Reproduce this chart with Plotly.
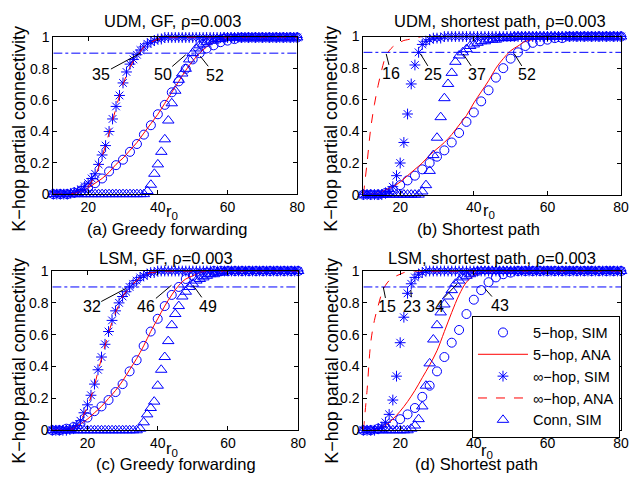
import plotly.graph_objects as go

W, H = 636, 485

# ---------------- data ----------------
R1 = list(range(10, 81))        # r0 grid, step 1 (stars, triangles, inf-hop ANA)
R2 = list(range(10, 81, 2))     # r0 grid, step 2 (circles, 5-hop ANA)
THRESH = 0.9
X_TICKS = [20, 40, 60, 80]
Y_TICKS = [0, 0.2, 0.4, 0.6, 0.8, 1]

TITLES = ["UDM, GF, ρ=0.003", "UDM, shortest path, ρ=0.003",
          "LSM, GF, ρ=0.003", "LSM, shortest path, ρ=0.003"]
CAPTIONS = ["(a) Greedy forwarding", "(b) Shortest path",
            "(c) Greedy forwarding", "(d) Shortest path"]
Y_LABEL = "K−hop partial connectivity"
X_LABEL = "r<sub>0</sub>"
NAMES = ["5−hop, SIM", "5−hop, ANA", "∞−hop, SIM", "∞−hop, ANA", "Conn, SIM"]

# ---- (a) UDM, GF ----
STAR_A = [0, 0, 0, 0, 0, 0.005, 0.01, 0.02, 0.03, 0.05,
          0.07, 0.10, 0.13, 0.19, 0.25, 0.31, 0.40, 0.48, 0.56, 0.63,
          0.71, 0.78, 0.83, 0.86, 0.89, 0.92, 0.94, 0.96, 0.97, 0.98,
          0.99, 0.99, 1, 1, 1, 1, 1, 1, 1, 1,
          1, 1, 1, 1, 1, 1, 1, 1, 1, 1,
          1, 1, 1, 1, 1, 1, 1, 1, 1, 1,
          1, 1, 1, 1, 1, 1, 1, 1, 1, 1, 1]
TRI_A = [0, 0, 0, 0, 0, 0, 0, 0, 0, 0,
         0, 0, 0, 0, 0, 0, 0, 0, 0, 0,
         0, 0, 0, 0, 0, 0, 0, 0.02, 0.06, 0.13,
         0.19, 0.27, 0.35, 0.47, 0.58, 0.66, 0.73, 0.77, 0.80, 0.86,
         0.90, 0.93, 0.95, 0.96, 0.97, 0.98, 0.98, 0.99, 0.99, 1,
         1, 1, 1, 1, 1, 1, 1, 1, 1, 1,
         1, 1, 1, 1, 1, 1, 1, 1, 1, 1, 1]
CIR_A = [0, 0, 0, 0.01, 0.02, 0.04, 0.07, 0.10, 0.145, 0.185,
         0.22, 0.27, 0.32, 0.38, 0.44, 0.51, 0.57, 0.65, 0.72, 0.80,
         0.86, 0.90, 0.93, 0.95, 0.97, 0.98, 0.99, 1, 1, 1,
         1, 1, 1, 1, 1, 1]
ANA5_A = [0, 0, 0, 0.01, 0.02, 0.04, 0.07, 0.10, 0.14, 0.19,
          0.23, 0.28, 0.33, 0.39, 0.45, 0.51, 0.58, 0.65, 0.72, 0.79,
          0.85, 0.90, 0.94, 0.97, 0.99, 1, 1, 1, 1, 1,
          1, 1, 1, 1, 1, 1]
ANAI_A = [0, 0, 0, 0, 0, 0.003, 0.006, 0.01, 0.02, 0.03,
          0.05, 0.08, 0.12, 0.17, 0.24, 0.31, 0.39, 0.47, 0.55, 0.63,
          0.70, 0.76, 0.81, 0.85, 0.89, 0.91, 0.94, 0.96, 0.97, 0.98,
          0.99, 0.99, 1, 1, 1, 1, 1, 1, 1, 1,
          1, 1, 1, 1, 1, 1, 1, 1, 1, 1,
          1, 1, 1, 1, 1, 1, 1, 1, 1, 1,
          1, 1, 1, 1, 1, 1, 1, 1, 1, 1, 1]

# ---- (b) UDM, shortest path ----
STAR_B = [0, 0, 0, 0, 0, 0, 0.01, 0.02, 0.05, 0.12,
          0.20, 0.33, 0.51, 0.70, 0.82, 0.90, 0.95, 0.97, 0.98, 0.99,
          0.99, 0.99, 1, 1, 1, 1, 1, 1, 1, 1,
          1, 1, 1, 1, 1, 1, 1, 1, 1, 1,
          1, 1, 1, 1, 1, 1, 1, 1, 1, 1,
          1, 1, 1, 1, 1, 1, 1, 1, 1, 1,
          1, 1, 1, 1, 1, 1, 1, 1, 1, 1, 1]
TRI_B = [0, 0, 0, 0, 0, 0, 0, 0, 0, 0,
         0, 0, 0, 0, 0, 0, 0.02, 0.06, 0.15, 0.25,
         0.36, 0.49, 0.61, 0.70, 0.77, 0.84, 0.88, 0.90, 0.92, 0.94,
         0.95, 0.96, 0.97, 0.97, 0.98, 0.98, 0.98, 0.99, 0.99, 0.99,
         0.99, 1, 1, 1, 1, 1, 1, 1, 1, 1,
         1, 1, 1, 1, 1, 1, 1, 1, 1, 1,
         1, 1, 1, 1, 1, 1, 1, 1, 1, 1, 1]
CIR_B = [0, 0, 0, 0.01, 0.03, 0.06, 0.09, 0.12, 0.16, 0.20,
         0.24, 0.28, 0.33, 0.39, 0.46, 0.52, 0.59, 0.66, 0.74, 0.80,
         0.86, 0.90, 0.94, 0.96, 0.97, 0.98, 0.99, 0.99, 1, 1,
         1, 1, 1, 1, 1, 1]
ANA5_B = [0, 0.005, 0.01, 0.03, 0.05, 0.08, 0.12, 0.16, 0.20, 0.25,
          0.29, 0.33, 0.38, 0.44, 0.50, 0.58, 0.65, 0.72, 0.80, 0.86,
          0.91, 0.94, 0.97, 0.98, 0.99, 1, 1, 1, 1, 1,
          1, 1, 1, 1, 1, 1]
ANAI_B = [0, 0.20, 0.42, 0.57, 0.69, 0.79, 0.87, 0.91, 0.935, 0.95,
          0.965, 0.975, 0.98, 0.985, 0.99, 0.995, 1, 1, 1, 1,
          1, 1, 1, 1, 1, 1, 1, 1, 1, 1,
          1, 1, 1, 1, 1, 1, 1, 1, 1, 1,
          1, 1, 1, 1, 1, 1, 1, 1, 1, 1,
          1, 1, 1, 1, 1, 1, 1, 1, 1, 1,
          1, 1, 1, 1, 1, 1, 1, 1, 1, 1, 1]

# ---- (c) LSM, GF ----
STAR_C = [0, 0, 0, 0, 0, 0.005, 0.01, 0.03, 0.06, 0.11,
          0.16, 0.22, 0.29, 0.38, 0.46, 0.54, 0.62, 0.69, 0.75, 0.80,
          0.84, 0.87, 0.90, 0.92, 0.94, 0.96, 0.97, 0.98, 0.99, 0.99,
          1, 1, 1, 1, 1, 1, 1, 1, 1, 1,
          1, 1, 1, 1, 1, 1, 1, 1, 1, 1,
          1, 1, 1, 1, 1, 1, 1, 1, 1, 1,
          1, 1, 1, 1, 1, 1, 1, 1, 1, 1, 1]
TRI_C = [0, 0, 0, 0, 0, 0, 0, 0, 0, 0,
         0, 0, 0, 0, 0, 0, 0, 0, 0, 0,
         0, 0, 0, 0, 0, 0.01, 0.05, 0.10, 0.14, 0.18,
         0.28, 0.38, 0.46, 0.56, 0.66, 0.73, 0.78, 0.84, 0.87, 0.90,
         0.92, 0.94, 0.95, 0.96, 0.97, 0.98, 0.98, 0.99, 0.99, 1,
         1, 1, 1, 1, 1, 1, 1, 1, 1, 1,
         1, 1, 1, 1, 1, 1, 1, 1, 1, 1, 1]
CIR_C = [0, 0, 0.01, 0.02, 0.04, 0.08, 0.12, 0.15, 0.19, 0.24,
         0.29, 0.37, 0.44, 0.53, 0.62, 0.70, 0.78, 0.85, 0.90, 0.95,
         0.97, 0.98, 0.99, 1, 1, 1, 1, 1, 1, 1,
         1, 1, 1, 1, 1, 1]
ANA5_C = [0, 0, 0.01, 0.02, 0.04, 0.07, 0.11, 0.15, 0.20, 0.25,
          0.31, 0.38, 0.45, 0.53, 0.62, 0.70, 0.78, 0.85, 0.91, 0.95,
          0.97, 0.99, 1, 1, 1, 1, 1, 1, 1, 1,
          1, 1, 1, 1, 1, 1]
ANAI_C = [0, 0, 0, 0, 0.003, 0.006, 0.01, 0.025, 0.06, 0.10,
          0.15, 0.21, 0.28, 0.37, 0.45, 0.53, 0.61, 0.68, 0.74, 0.79,
          0.84, 0.87, 0.90, 0.92, 0.94, 0.96, 0.97, 0.98, 0.99, 0.99,
          1, 1, 1, 1, 1, 1, 1, 1, 1, 1,
          1, 1, 1, 1, 1, 1, 1, 1, 1, 1,
          1, 1, 1, 1, 1, 1, 1, 1, 1, 1,
          1, 1, 1, 1, 1, 1, 1, 1, 1, 1, 1]

# ---- (d) LSM, shortest path ----
STAR_D = [0, 0, 0, 0, 0.01, 0.02, 0.05, 0.10, 0.19, 0.34,
          0.55, 0.71, 0.86, 0.92, 0.96, 0.98, 0.99, 1, 1, 1,
          1, 1, 1, 1, 1, 1, 1, 1, 1, 1,
          1, 1, 1, 1, 1, 1, 1, 1, 1, 1,
          1, 1, 1, 1, 1, 1, 1, 1, 1, 1,
          1, 1, 1, 1, 1, 1, 1, 1, 1, 1,
          1, 1, 1, 1, 1, 1, 1, 1, 1, 1, 1]
TRI_D = [0, 0, 0, 0, 0, 0, 0, 0, 0, 0,
         0, 0, 0, 0.01, 0.03, 0.07, 0.15, 0.28, 0.42, 0.57,
         0.66, 0.74, 0.79, 0.84, 0.88, 0.92, 0.94, 0.96, 0.97, 0.98,
         0.99, 1, 1, 1, 1, 1, 1, 1, 1, 1,
         1, 1, 1, 1, 1, 1, 1, 1, 1, 1,
         1, 1, 1, 1, 1, 1, 1, 1, 1, 1,
         1, 1, 1, 1, 1, 1, 1, 1, 1, 1, 1]
CIR_D = [0, 0, 0.01, 0.02, 0.04, 0.07, 0.10, 0.14, 0.21, 0.28,
         0.37, 0.46, 0.55, 0.63, 0.73, 0.82, 0.88, 0.93, 0.96, 0.98,
         0.99, 1, 1, 1, 1, 1, 1, 1, 1, 1,
         1, 1, 1, 1, 1, 1]
ANA5_D = [0, 0, 0.01, 0.03, 0.07, 0.12, 0.18, 0.25, 0.33, 0.41,
          0.50, 0.62, 0.74, 0.85, 0.93, 0.97, 0.99, 1, 1, 1,
          1, 1, 1, 1, 1, 1, 1, 1, 1, 1,
          1, 1, 1, 1, 1, 1]
ANAI_D = [0, 0.25, 0.55, 0.69, 0.78, 0.86, 0.91, 0.94, 0.96, 0.97,
          0.98, 0.99, 0.995, 1, 1, 1, 1, 1, 1, 1,
          1, 1, 1, 1, 1, 1, 1, 1, 1, 1,
          1, 1, 1, 1, 1, 1, 1, 1, 1, 1,
          1, 1, 1, 1, 1, 1, 1, 1, 1, 1,
          1, 1, 1, 1, 1, 1, 1, 1, 1, 1,
          1, 1, 1, 1, 1, 1, 1, 1, 1, 1, 1]

# threshold-crossing labels: (label, r0 of leader end, y of leader end)
LABELS_A = [("35", 35.0, 0.90), ("50", 48.0, 0.89), ("52", 52.2, 0.88)]
LABELS_B = [("16", 16.2, 0.89), ("25", 25.5, 0.89), ("37", 37.1, 0.89), ("52", 51.0, 0.89)]
LABELS_C = [("32", 30.9, 0.89), ("46", 43.9, 0.91), ("49", 50.1, 0.91)]
LABELS_D = [("15", 15.4, 0.90), ("23", 22.9, 0.88), ("34", 35.5, 0.92), ("43", 43.0, 0.89)]

# ---------------- layout geometry (pixels) ----------------
BLUE = "rgb(0,0,255)"
RED = "rgb(255,0,0)"
FONT = "Liberation Sans, Arial, Helvetica, sans-serif"

# axes boxes: (left, right, top, bottom) in px
BOXES = [(54, 301, 30.5, 192.5), (368, 629, 29.5, 193),
         (53, 302, 272, 436.7), (368, 629, 272, 436.7)]
TITLE_POS = [(175, 13), (506, 13), (168, 259), (498, 259)]
CAPTION_POS = [(169, 229), (485, 229), (178, 472), (483, 472)]
XLABEL_POS = [(174, 211), (495, 210), (174, 456), (493, 458)]
YLABEL_POS = [(19, 125), (335, 125), (19, 365), (336, 365)]
# label text centre offsets (px) from leader end
LABEL_OFF = [[(-39, 21), (-23, 20), (15, 19)],
             [(5, 20), (13, 21), (14, 21), (13, 21)],
             [(-34, 18), (-25, 21), (15, 21)],
             [(4, 20), (1, 16), (-22, 23), (15, 17)]]

PANELS = [
    (STAR_A, TRI_A, CIR_A, ANA5_A, ANAI_A, LABELS_A),
    (STAR_B, TRI_B, CIR_B, ANA5_B, ANAI_B, LABELS_B),
    (STAR_C, TRI_C, CIR_C, ANA5_C, ANAI_C, LABELS_C),
    (STAR_D, TRI_D, CIR_D, ANA5_D, ANAI_D, LABELS_D),
]


def px(x):
    return x / W


def py(y):
    return 1 - y / H


fig = go.Figure()
annotations = []
layout_axes = {}

for i, (star, tri, cir, ana5, anai, labels) in enumerate(PANELS):
    n = "" if i == 0 else str(i + 1)
    xa, ya = "x" + n, "y" + n
    leg = (i == 3)
    common = dict(xaxis=xa, yaxis=ya, cliponaxis=False)

    fig.add_trace(go.Scatter(x=R2, y=cir, mode="markers", name=NAMES[0], showlegend=leg,
                             marker=dict(symbol="circle-open", size=9, color=BLUE,
                                         line=dict(width=1, color=BLUE)), **common))
    fig.add_trace(go.Scatter(x=R2, y=ana5, mode="lines", name=NAMES[1], showlegend=leg,
                             line=dict(color=RED, width=1, shape="spline"), **common))
    fig.add_trace(go.Scatter(x=R1, y=star, mode="markers", name=NAMES[2], showlegend=leg,
                             marker=dict(symbol="asterisk-open", size=9, color=BLUE,
                                         line=dict(width=1, color=BLUE)), **common))
    fig.add_trace(go.Scatter(x=R1, y=anai, mode="lines", name=NAMES[3], showlegend=leg,
                             line=dict(color=RED, width=1, dash="dash", shape="spline"), **common))
    fig.add_trace(go.Scatter(x=R1, y=tri, mode="markers", name=NAMES[4], showlegend=leg,
                             marker=dict(symbol="triangle-up-open", size=10, color=BLUE,
                                         line=dict(width=1, color=BLUE)), **common))
    # threshold line
    fig.add_trace(go.Scatter(x=[R1[0], R1[-1]], y=[THRESH, THRESH], mode="lines",
                             showlegend=False, line=dict(color=BLUE, width=1, dash="dashdot"),
                             xaxis=xa, yaxis=ya, hoverinfo="skip"))

    l, r, t, b = BOXES[i]
    axstyle = dict(showline=True, linecolor="black", linewidth=1, mirror="ticks",
                   ticks="inside", ticklen=4, tickcolor="black", showgrid=False,
                   zeroline=False, tickfont=dict(size=14, color="black", family=FONT))
    layout_axes["xaxis" + n] = dict(domain=[px(l), px(r)], range=[10, 80], tickvals=X_TICKS,
                                    anchor=ya, **axstyle)
    layout_axes["yaxis" + n] = dict(domain=[py(b), py(t)], range=[0, 1], tickvals=Y_TICKS,
                                    anchor=xa, **axstyle)

    # texts
    tx, ty = TITLE_POS[i]
    annotations.append(dict(x=px(tx), y=py(ty), xref="paper", yref="paper", text=TITLES[i],
                            showarrow=False, font=dict(size=16.5), xanchor="center", yanchor="middle"))
    cx, cy = CAPTION_POS[i]
    annotations.append(dict(x=px(cx), y=py(cy), xref="paper", yref="paper", text=CAPTIONS[i],
                            showarrow=False, font=dict(size=16.5), xanchor="center", yanchor="middle"))
    lx, ly = XLABEL_POS[i]
    annotations.append(dict(x=px(lx), y=py(ly), xref="paper", yref="paper", text=X_LABEL,
                            showarrow=False, font=dict(size=16.5), xanchor="center", yanchor="middle"))
    yx, yy = YLABEL_POS[i]
    annotations.append(dict(x=px(yx), y=py(yy), xref="paper", yref="paper", text=Y_LABEL,
                            textangle=-90, showarrow=False, font=dict(size=18),
                            xanchor="center", yanchor="middle"))
    for (lab, lxv, lyv), (ox, oy) in zip(labels, LABEL_OFF[i]):
        annotations.append(dict(x=lxv, y=lyv, xref=xa, yref=ya, text=lab, showarrow=True,
                                arrowhead=0, arrowwidth=1, arrowcolor="black", ax=ox, ay=oy,
                                font=dict(size=16), standoff=0, borderpad=0))

fig.update_layout(
    width=W, height=H, margin=dict(l=0, r=0, t=0, b=0),
    paper_bgcolor="white", plot_bgcolor="white",
    font=dict(family=FONT, color="black", size=14),
    annotations=annotations,
    legend=dict(x=px(478), y=py(318), xanchor="left", yanchor="top",
                bgcolor="white", bordercolor="black", borderwidth=1,
                font=dict(size=14.5), tracegroupgap=0, itemwidth=50),
    **layout_axes,
)

# pin the 636x485 figure to the top-left corner of the page with no page margins
PAGE_FIX = (
    "document.documentElement.style.margin='0px';"
    "document.body.style.margin='0px';"
    "document.documentElement.style.overflow='hidden';"
    "document.body.style.overflow='hidden';"
    "document.documentElement.style.height='485px';"
    "document.body.style.height='485px';"
    "var g=document.getElementsByClassName('plotly-graph-div')[0];"
    "g.style.position='absolute';g.style.top='0px';g.style.left='0px';"
)
fig.write_html("out.html", config={"displayModeBar": False}, post_script=PAGE_FIX)
